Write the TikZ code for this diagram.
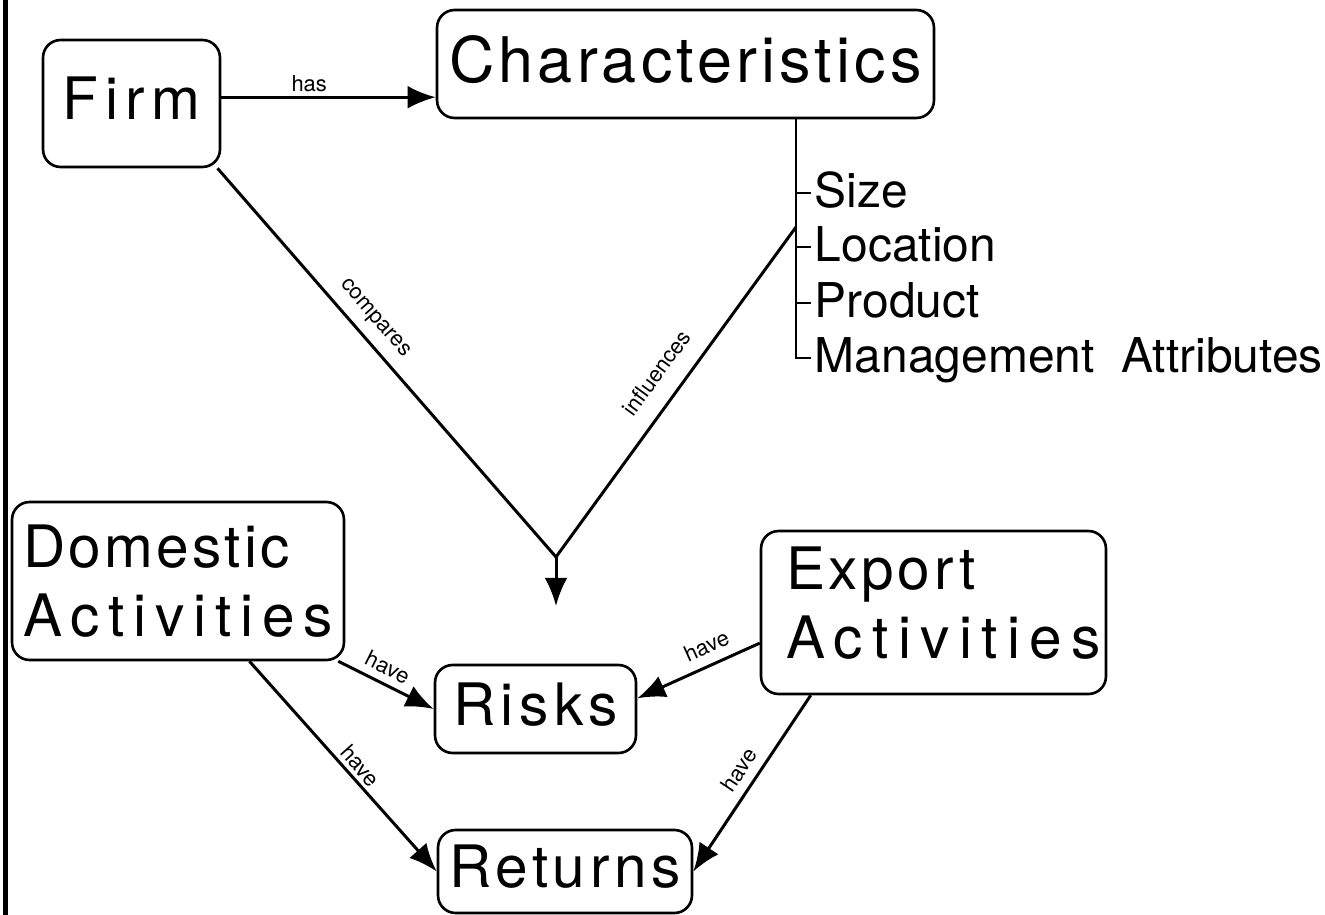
\documentclass[tikz,border=0pt]{standalone}
\usepackage{fontspec}
\setmainfont{TeX Gyre Heros}
\usepackage{tikz}
\usetikzlibrary{arrows.meta}

\newcommand\boxfont{\fontsize{33.3}{39.3}\selectfont}
\newcommand\tracked[2]{{\addfontfeature{LetterSpace=#1}#2}}

\tikzset{
  box/.style={draw, line width=1.5pt, rounded corners=10pt, inner sep=0pt, font=\boxfont},
  wordbox/.style={box, text depth=6pt},
  twobox/.style={box, align=left},
  item/.style={anchor=west, inner xsep=2pt, inner ysep=0pt, text height=16pt, text depth=0pt, font=\fontsize{27.3}{30}\selectfont},
  lbl/.style={sloped, inner sep=2pt, font=\fontsize{12.5}{14}\selectfont},
  link/.style={line width=1.7pt},
  arr/.style={link, -{Latex[length=16pt,width=13pt]}},
}

\begin{document}
\begin{tikzpicture}[x=0.02cm, y=-0.02cm]
    \useasboundingbox (0,0) rectangle (1325,915);
    \draw[line width=2.8pt] (5.5,0) -- (5.5,915);

    % boxes
    \node[wordbox, minimum width=3.54cm, minimum height=2.54cm] (firm) at (131.5,103.5) {\tracked{12}{Firm}};
    \node[wordbox, minimum width=9.94cm, minimum height=2.16cm, font=\fontsize{35.8}{40}\selectfont] (chars) at (685.5,64) {\tracked{6.6}{Characteristics}};
    \node[twobox, minimum width=6.64cm, minimum height=3.16cm] (dom) at (178,581) {\tracked{5.6}{Domestic}\\\tracked{15}{Activities}};
    \node[twobox, text width=5.9cm, inner xsep=0.5cm, minimum height=3.26cm] (export) at (933.5,612.5)
        {\tracked{6.3}{Export}\\\tracked{16}{Activities}\rule[-11pt]{0pt}{11pt}};
    \node[wordbox, minimum width=4.02cm, minimum height=1.76cm] (risks) at (535.5,709) {\tracked{9.4}{Risks}};
    \node[wordbox, minimum width=5.08cm, minimum height=1.66cm] (returns) at (565,871.5) {\tracked{8}{Returns}};

    % list of characteristics
    \node[item] (size) at (811,193) {Size};
    \node[item] (loc) at (811,247) {Location};
    \node[item] (prod) at (811,303) {Product};
    \node[item] (mgmt) at (811,358) {Management~~Attributes};
    \coordinate (stem) at (796,118);
    \coordinate (infl) at (796,227);
    \draw[line width=1.5pt] (stem) |- (mgmt.west);
    \foreach \n in {size,loc,prod}
        \draw[line width=1.5pt] (\n.west -| stem) -- (\n.west);

    % connectors
    \draw[arr] (firm.4) -- node[lbl, above, pos=0.41] {has} (firm.4 -| chars.west);
    \coordinate (join) at (556,557);
    \coordinate (down) at (556,606);
    \draw[link, line join=round] (firm.-37) -- node[lbl, above=3.6pt, pos=0.42] {compares} (join)
        -- node[lbl, above=8pt, pos=0.51] {influences} (infl);
    \draw[arr] (join) -- (down);
    \draw[arr] (dom) -- node[lbl, above=2pt, pos=0.44] {have} (risks.west);
    \draw[arr] (dom) -- node[lbl, above, pos=0.54] {have} (returns.west);
    \draw[arr] (export.190) -- node[lbl, above=3.6pt, pos=0.37] {have} (risks.6);
    \draw[arr] (export.214) -- node[lbl, above=3pt, pos=0.48] {have} (returns.east);
\end{tikzpicture}
\end{document}
